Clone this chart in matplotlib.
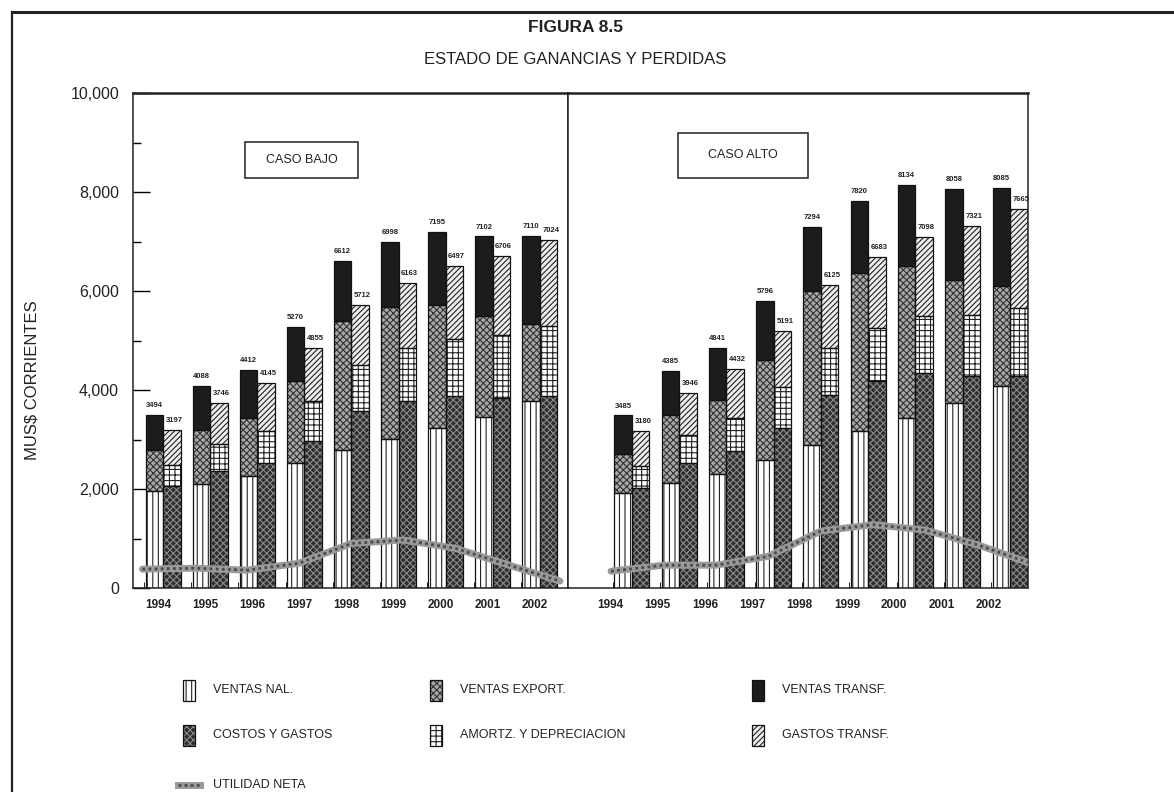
import matplotlib
matplotlib.use("Agg")
import matplotlib.pyplot as plt
from matplotlib.patches import Rectangle
import numpy as np

plt.rcParams['font.family'] = ['Liberation Sans', 'DejaVu Sans']
plt.rcParams['hatch.linewidth'] = 0.8

years = ['1994', '1995', '1996', '1997', '1998', '1999', '2000', '2001', '2002']

# ---- CASO BAJO (MUS$ stacked from the bottom) ----
bajo_ventas_nal = [1960, 2100, 2260, 2530, 2780, 3010, 3230, 3450, 3770]
bajo_ventas_export = [830, 1090, 1170, 1650, 2610, 2660, 2490, 2050, 1560]
bajo_ventas_total = [3494, 4088, 4412, 5270, 6612, 6998, 7195, 7102, 7110]
bajo_costos = [2060, 2360, 2530, 2970, 3570, 3770, 3880, 3840, 3880]
bajo_amortz = [420, 550, 640, 810, 940, 1080, 1160, 1270, 1410]
bajo_costos_total = [3197, 3746, 4145, 4855, 5712, 6163, 6497, 6706, 7024]
bajo_utilidad = [380, 400, 360, 500, 900, 970, 800, 470, 140]

# ---- CASO ALTO ----
alto_ventas_nal = [1920, 2120, 2300, 2590, 2890, 3170, 3430, 3740, 4080]
alto_ventas_export = [790, 1380, 1500, 2020, 3110, 3190, 3070, 2480, 2020]
alto_ventas_total = [3485, 4385, 4841, 5796, 7294, 7820, 8134, 8058, 8085]
alto_costos = [2020, 2530, 2770, 3230, 3900, 4180, 4340, 4280, 4280]
alto_amortz = [440, 570, 660, 830, 950, 1070, 1150, 1240, 1380]
alto_costos_total = [3180, 3946, 4432, 5191, 6125, 6683, 7098, 7321, 7665]
alto_utilidad = [340, 460, 460, 640, 1150, 1280, 1170, 870, 500]

W, H = 1174, 792
fig = plt.figure(figsize=(W / 100, H / 100), dpi=100)

# overlay in pixel coordinates for frame, titles and legend
ov = fig.add_axes([0, 0, 1, 1])
ov.set_xlim(0, W)
ov.set_ylim(H, 0)
ov.axis('off')

ov.plot([12, 1172], [12, 12], color='#222', lw=2.2)
ov.plot([12, 12], [12, 792], color='#222', lw=1.6)
ov.text(575, 27, 'FIGURA 8.5', ha='center', va='center', fontsize=12.5,
        fontweight='bold', color='#222')
ov.text(575, 60, 'ESTADO DE GANANCIAS Y PERDIDAS', ha='center', va='center',
        fontsize=12, color='#222')
ov.text(32, 380, 'MUS$ CORRIENTES', ha='center', va='center', rotation=90,
        fontsize=12, color='#222')

styles = {
    'nal': dict(face='white', hatch='|||', hc='#222'),
    'exp': dict(face='#a8a8a8', hatch='xxxxx', hc='#333'),
    'trf': dict(face='#1c1c1c', hatch=None, hc='#1c1c1c'),
    'cos': dict(face='#2e2e2e', hatch='xxxxx', hc='#8a8a8a'),
    'amo': dict(face='white', hatch='+++', hc='#222'),
    'gas': dict(face='#eeeeee', hatch='//////', hc='#222'),
}


def hbar(ax, x, bottom, height, key, width):
    st = styles[key]
    ax.bar(x, height, width, bottom=bottom, color=st['face'], hatch=st['hatch'],
           edgecolor=st['hc'], linewidth=0, zorder=2)
    ax.bar(x, height, width, bottom=bottom, fill=False, edgecolor='#111',
           linewidth=0.9, zorder=3)


def panel(rect, xlim, nal, exp, vtot, cos, amo, ctot, util, label, box,
          show_y, lab_shift):
    ax = fig.add_axes(rect)
    x = np.arange(len(years))
    bw = 0.37
    nal = np.array(nal); exp = np.array(exp); vtot = np.array(vtot)
    cos = np.array(cos); amo = np.array(amo); ctot = np.array(ctot)
    xr = x - bw / 2
    xc = x + bw / 2
    hbar(ax, xr, 0, nal, 'nal', bw)
    hbar(ax, xr, nal, exp, 'exp', bw)
    hbar(ax, xr, nal + exp, vtot - nal - exp, 'trf', bw)
    hbar(ax, xc, 0, cos, 'cos', bw)
    hbar(ax, xc, cos, amo, 'amo', bw)
    hbar(ax, xc, cos + amo, ctot - cos - amo, 'gas', bw)
    for i in range(len(years)):
        ax.text(xr[i], vtot[i] + 120, f'{vtot[i]}', ha='center', va='bottom',
                fontsize=5.5, fontweight='bold', color='#222', zorder=5)
        ax.text(xc[i] + 0.05, ctot[i] + 120, f'{ctot[i]}', ha='center',
                va='bottom', fontsize=5.5, fontweight='bold', color='#222',
                zorder=5)
    # net income line
    lx = np.linspace(-0.44, 8.43, len(util))
    ax.plot(lx, util, color='#9a9a9a', lw=5, zorder=4, solid_capstyle='round')
    ax.plot(lx, util, color='#4a4a4a', lw=2, ls=(0, (1, 1.2)), zorder=4.5)

    ax.set_xlim(*xlim)
    ax.set_ylim(0, 10000)
    ax.set_xticks(x + lab_shift)
    ax.set_xticklabels(years, fontsize=8.5, fontweight='bold', color='#222')
    ax.tick_params(axis='x', length=0, pad=8)
    ax.set_xticks(x - 0.4, minor=True)
    ax.tick_params(axis='x', which='minor', direction='in', length=4)
    if show_y:
        ax.set_yticks(np.arange(0, 10001, 2000))
        ax.set_yticklabels([f'{v:,}' for v in range(0, 10001, 2000)],
                           fontsize=11.5, color='#222')
        ax.set_yticks(np.arange(1000, 10000, 2000), minor=True)
        ax.tick_params(axis='y', which='major', direction='in', length=12,
                       pad=10, width=1)
        ax.tick_params(axis='y', which='minor', direction='in', length=6,
                       width=1)
    else:
        ax.set_yticks([])
    for s in ax.spines.values():
        s.set_linewidth(1.1)
        s.set_color('#222')
    ax.spines['top'].set_linewidth(1.8)
    bx, by, bwid, bht = box
    ax.add_patch(Rectangle((bx, by), bwid, bht, transform=ax.transAxes,
                           fill=False, edgecolor='#222', lw=1.1, zorder=6))
    ax.text(bx + bwid / 2, by + bht / 2, label, transform=ax.transAxes,
            ha='center', va='center', fontsize=9, color='#222', zorder=6)
    return ax


ax_top = 93
ax_bot = 588
hfrac = (ax_bot - ax_top) / H
bfrac = (H - ax_bot) / H

panel([133 / W, bfrac, 435 / W, hfrac], (-0.64, 8.6),
      bajo_ventas_nal, bajo_ventas_export, bajo_ventas_total,
      bajo_costos, bajo_amortz, bajo_costos_total, bajo_utilidad,
      'CASO BAJO', ((245 - 133) / 435, (588 - 178) / 495, 113 / 435, 36 / 495),
      True, -0.1)
panel([568 / W, bfrac, 460 / W, hfrac], (-1.35, 8.38),
      alto_ventas_nal, alto_ventas_export, alto_ventas_total,
      alto_costos, alto_amortz, alto_costos_total, alto_utilidad,
      'CASO ALTO', ((678 - 568) / 460, (588 - 178) / 495, 130 / 460, 45 / 495),
      False, -0.45)

# legend drawn in pixel space
leg = [
    (183, 690, 'nal', 'VENTAS NAL.'),
    (430, 690, 'exp', 'VENTAS EXPORT.'),
    (752, 690, 'trf', 'VENTAS TRANSF.'),
    (183, 735, 'cos', 'COSTOS Y GASTOS'),
    (430, 735, 'amo', 'AMORTZ. Y DEPRECIACION'),
    (752, 735, 'gas', 'GASTOS TRANSF.'),
]
for px, py, key, txt in leg:
    st = styles[key]
    ov.add_patch(Rectangle((px, py - 10), 12, 21, facecolor=st['face'],
                           hatch=st['hatch'], edgecolor=st['hc'], lw=0))
    ov.add_patch(Rectangle((px, py - 10), 12, 21, fill=False,
                           edgecolor='#111', lw=0.9))
    ov.text(px + 30, py, txt, va='center', ha='left', fontsize=9, color='#222')
ov.plot([178, 200], [785, 785], color='#9a9a9a', lw=5)
ov.plot([178, 200], [785, 785], color='#4a4a4a', lw=2, ls=(0, (1, 1.2)))
ov.text(213, 785, 'UTILIDAD NETA', va='center', ha='left', fontsize=9,
        color='#222')

fig.savefig('out.png', dpi=100, facecolor='white')
